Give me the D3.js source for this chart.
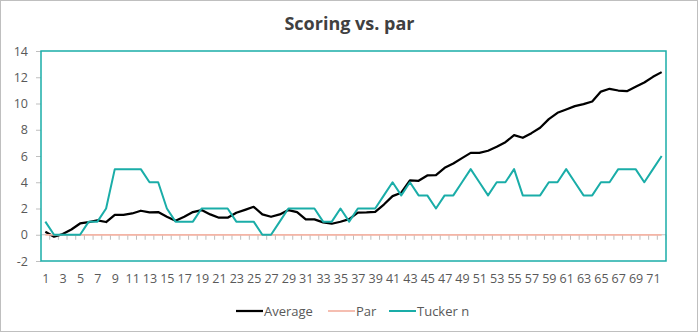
<!DOCTYPE html>
<html>
<head>
<meta charset="utf-8">
<script src="https://cdn.jsdelivr.net/npm/d3@7"></script>
<style>
  html, body { margin: 0; padding: 0; background: #fff; }
  svg { display: block; font-family: "Open Sans", "Noto Sans", sans-serif; }
</style>
</head>
<body>
<div id="chart"></div>
<script>
// Holes 1..72 along the x axis
const holes = d3.range(1, 73);

// Running average score relative to par
const average = [
  0.23, -0.15, 0.05, 0.40, 0.86, 0.96, 1.10, 0.97, 1.52, 1.52,
  1.62, 1.83, 1.70, 1.73, 1.37, 1.07, 1.37, 1.73, 1.88, 1.55,
  1.30, 1.30, 1.68, 1.90, 2.13, 1.55, 1.37, 1.55, 1.88, 1.73,
  1.17, 1.17, 0.94, 0.84, 0.99, 1.19, 1.68, 1.70, 1.75, 2.30,
  2.94, 3.20, 4.14, 4.11, 4.52, 4.54, 5.10, 5.43, 5.84, 6.24,
  6.24, 6.40, 6.70, 7.05, 7.59, 7.39, 7.74, 8.15, 8.81, 9.29,
  9.54, 9.80, 9.95, 10.15, 10.91, 11.12, 10.99, 10.94, 11.27, 11.60,
  12.03, 12.39
];

// Par reference line
const par = holes.map(() => 0);

// Tucker's cumulative score relative to par
const tucker = [
  1, 0, 0, 0, 0, 1, 1, 2, 5, 5,
  5, 5, 4, 4, 2, 1, 1, 1, 2, 2,
  2, 2, 1, 1, 1, 0, 0, 1, 2, 2,
  2, 2, 1, 1, 2, 1, 2, 2, 2, 3,
  4, 3, 4, 3, 3, 2, 3, 3, 4, 5,
  4, 3, 4, 4, 5, 3, 3, 3, 4, 4,
  5, 4, 3, 3, 4, 4, 5, 5, 5, 4,
  5, 6
];

const yTicks = [-2, 0, 2, 4, 6, 8, 10, 12, 14];
const xTickLabels = holes.filter(h => h % 2 === 1);

const series = [
  { name: "Average", values: average, color: "#000000", width: 2.25 },
  { name: "Par", values: par, color: "#F4B5A6", width: 1.75 },
  { name: "Tucker n", values: tucker, color: "#1AADA8", width: 2 }
];

const W = 699, H = 333;
const plot = { left: 41, top: 51, right: 666, bottom: 261 };

const svg = d3.select("#chart").append("svg")
  .attr("width", W).attr("height", H);

// Outer chart frame
svg.append("rect")
  .attr("x", 0.5).attr("y", 0.5)
  .attr("width", W - 2).attr("height", H - 2)
  .attr("fill", "#fff").attr("stroke", "#BFBFBF");

const x = d3.scalePoint().domain(holes)
  .range([plot.left, plot.right]).padding(0.5);
const band = d3.scaleBand().domain(holes)
  .range([plot.left, plot.right]).padding(0);
const y = d3.scaleLinear().domain([-2, 14]).range([plot.bottom, plot.top]);

// Title
svg.append("text")
  .attr("x", W / 2).attr("y", 30)
  .attr("text-anchor", "middle")
  .attr("font-size", 18).attr("font-weight", 700)
  .attr("fill", "#404040")
  .text("Scoring vs. par");

// Y axis labels with short outside tick marks
const yAxis = d3.axisLeft(y).tickValues(yTicks).tickSize(5).tickPadding(8)
  .tickFormat(d => d < 0 ? "-" + Math.abs(d) : d);
const gy = svg.append("g").attr("transform", `translate(${plot.left},0)`).call(yAxis);
gy.select(".domain").remove();
gy.selectAll(".tick line").attr("stroke", "#BFBFBF");
gy.selectAll("text").attr("font-size", 12.5).attr("fill", "#595959")
  .attr("font-family", "'Open Sans', sans-serif");

// X axis labels along the bottom of the plot
const xAxis = d3.axisBottom(x).tickValues(xTickLabels).tickSize(0).tickPadding(13);
const gx = svg.append("g").attr("transform", `translate(0,${plot.bottom})`).call(xAxis);
gx.select(".domain").remove();
gx.selectAll("text").attr("font-size", 12.5).attr("fill", "#595959")
  .attr("font-family", "'Open Sans', sans-serif");

// Category axis at zero with tick marks between holes
const boundaries = holes.map(h => band(h)).concat([band(holes[holes.length - 1]) + band.bandwidth()]);
svg.append("line")
  .attr("x1", plot.left).attr("x2", plot.right)
  .attr("y1", y(0)).attr("y2", y(0))
  .attr("stroke", "#BFBFBF").attr("stroke-width", 1);
svg.append("g").selectAll("line").data(boundaries).join("line")
  .attr("x1", d => d).attr("x2", d => d)
  .attr("y1", y(0)).attr("y2", y(0) + 5)
  .attr("stroke", "#BFBFBF").attr("stroke-width", 1);

// Series lines
const line = d3.line().x((d, i) => x(holes[i])).y(d => y(d));
svg.append("g").selectAll("path").data(series).join("path")
  .attr("d", s => line(s.values))
  .attr("fill", "none")
  .attr("stroke", s => s.color)
  .attr("stroke-width", s => s.width)
  .attr("stroke-linejoin", "round");

// Plot area frame
svg.append("rect")
  .attr("x", plot.left).attr("y", plot.top)
  .attr("width", plot.right - plot.left).attr("height", plot.bottom - plot.top)
  .attr("fill", "none").attr("stroke", "#1AADA8").attr("stroke-width", 1.5);

// Legend
const legendItems = [
  { s: series[0], x: 236 },
  { s: series[1], x: 328 },
  { s: series[2], x: 389 }
];
const lg = svg.append("g").attr("transform", "translate(0,311)");
const li = lg.selectAll("g").data(legendItems).join("g")
  .attr("transform", d => `translate(${d.x},0)`);
li.append("line").attr("x1", 0).attr("x2", 27).attr("y1", 0).attr("y2", 0)
  .attr("stroke", d => d.s.color).attr("stroke-width", d => d.s.width);
li.append("text").attr("x", 28).attr("y", 0).attr("dy", "0.35em")
  .attr("font-size", 13).attr("fill", "#595959")
  .text(d => d.s.name);
</script>
</body>
</html>
